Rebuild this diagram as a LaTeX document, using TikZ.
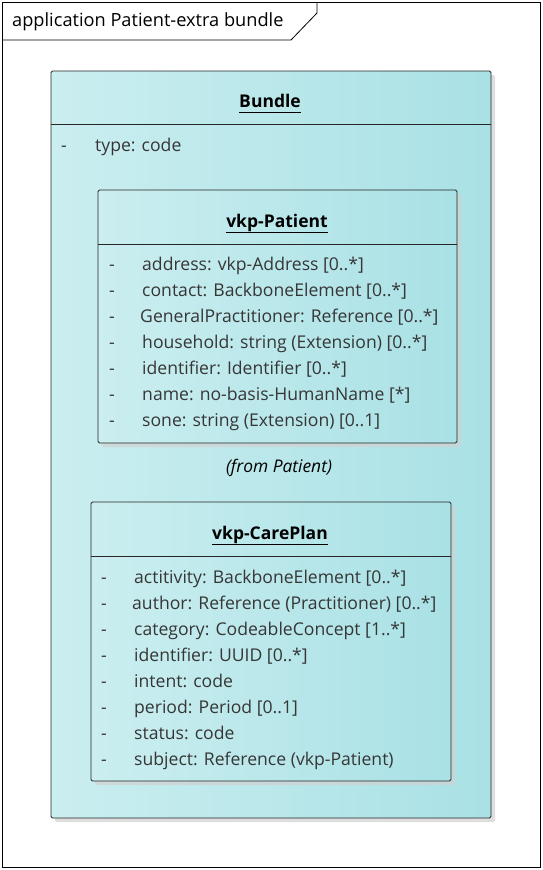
\documentclass[tikz,border=0pt]{standalone}
\usepackage{fontspec}
\setmainfont{Open Sans}
\usetikzlibrary{shadows,calc}
\definecolor{boxL}{HTML}{CBEEF0}
\definecolor{boxR}{HTML}{A9E1E5}
\definecolor{attr}{HTML}{363636}
\tikzset{
  classbox/.style={draw=black!85, line width=0.8pt, rounded corners=1.5pt, left color=boxL, right color=boxR,
    drop shadow={shadow xshift=4pt, shadow yshift=-4pt, fill=black!18, opacity=0.7}},
  ttl/.style={font=\fontsize{17.5}{20}\selectfont\bfseries, inner xsep=0pt, anchor=base},
  att/.style={font=\fontsize{17.6}{20}\selectfont, text=attr, anchor=base west, inner sep=0pt},
  divl/.style={line width=0.8pt, draw=black!85},
}
\begin{document}
\begin{tikzpicture}[x=1pt,y=-1pt]
\useasboundingbox (0,0) rectangle (542,870);
\fill[white] (0,0) rectangle (542,870);
% frame
\draw[line width=0.8pt] (2,2) rectangle (540,867);
\draw[line width=0.8pt] (2,40) -- (291,40) -- (317,13) -- (317,2);
\node[font=\fontsize{18.2}{21}\selectfont, anchor=base west, inner sep=0pt] (frametitle) at (12,27) {application Patient-extra bundle};
% Bundle
\draw[classbox] (51,71) rectangle (491,818);
\draw[divl] (51,124) -- (491,124);
\node[ttl] (bt) at (270,107) {Bundle};
\draw[line width=0.8pt] ([yshift=-5pt]bt.base west) -- ([yshift=-5pt]bt.base east);
\node[att] (bd) at (61,151) {-};
\node[att] (ba) at (95,151) {type: code};
% Patient
\draw[classbox] (98,190) rectangle (457,443);
\draw[divl] (98,244) -- (457,244);
\node[ttl] (pt) at (277,227) {vkp-Patient};
\draw[line width=0.8pt] ([yshift=-5pt]pt.base west) -- ([yshift=-5pt]pt.base east);
\foreach \t/\x [count=\i] in {address: vkp-Address [0..*]/142,contact: BackboneElement [0..*]/142,GeneralPractitioner: Reference [0..*]/140,household: string (Extension) [0..*]/142,identifier: Identifier [0..*]/142,name: no-basis-HumanName [*]/142,sone: string (Extension) [0..1]/142}{
  \node[att] (pd\i) at (109,244+26*\i) {-};
  \node[att] (pa\i) at (\x,244+26*\i) {\t};
}
\node[font=\fontsize{17.4}{20}\selectfont\itshape, anchor=base, inner sep=0pt] (from) at (279,472) {(from Patient)};
% CarePlan
\draw[classbox] (91,502) rectangle (451,781);
\draw[divl] (91,556) -- (451,556);
\node[ttl] (ct) at (270,539) {vkp-CarePlan};
\draw[line width=0.8pt] ([yshift=-5pt]ct.base west) -- ([yshift=-5pt]ct.base east);
\foreach \t/\x [count=\i] in {actitivity: BackboneElement [0..*]/134,author: Reference (Practitioner) [0..*]/132,category: CodeableConcept [1..*]/134,identifier: UUID [0..*]/134,intent: code/134,period: Period [0..1]/134,status: code/134,subject: Reference (vkp-Patient)/134}{
  \node[att] (cd\i) at (101,557+26*\i) {-};
  \node[att] (ca\i) at (\x,557+26*\i) {\t};
}
\end{tikzpicture}
\end{document}
